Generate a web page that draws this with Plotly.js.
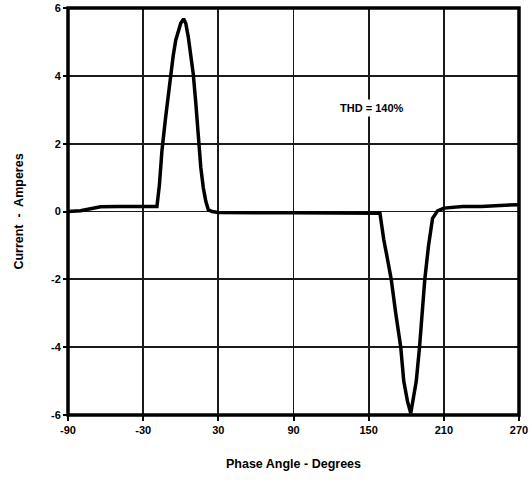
<!DOCTYPE html>
<html>
<head>
<meta charset="utf-8">
<script src="https://cdn.plot.ly/plotly-3.0.1.min.js"></script>
<style>html,body{margin:0;padding:0;background:#fff;}#chart{width:532px;height:488px;}</style>
</head>
<body>
<div id="chart"></div>
<script>
var phaseDeg = [-90, -80, -72, -64, -50, -40, -30, -25, -19, -17, -15, -12, -9, -6, -4, -2, 0, 2.3, 4, 6, 8, 10, 12, 14, 16, 18, 20, 22, 25, 30, 45, 60, 90, 120, 150, 159, 160, 162, 165, 168, 171.6, 175.6, 178, 181, 183.6, 186, 188, 190.6, 192.8, 194.8, 197.8, 201, 205, 210, 225, 240, 255, 270];
var currentAmps = [0, 0.02, 0.08, 0.14, 0.15, 0.15, 0.15, 0.15, 0.15, 0.8, 1.8, 2.8, 3.8, 4.6, 5.05, 5.35, 5.55, 5.68, 5.55, 5.15, 4.6, 4.05, 3.2, 2.1, 1.3, 0.7, 0.3, 0.05, 0, -0.03, -0.04, -0.04, -0.04, -0.04, -0.04, -0.05, -0.3, -0.82, -1.4, -2.0, -3.0, -4.0, -5.0, -5.6, -5.95, -5.5, -5.0, -4.0, -3.0, -2.0, -1.0, -0.2, 0.02, 0.1, 0.15, 0.15, 0.18, 0.2];
var xTicks = [-90, -30, 30, 90, 150, 210, 270];
var yTicks = [-6, -4, -2, 0, 2, 4, 6];
var thdLabel = "THD = 140%";

var fnt = {family: "Liberation Sans, Arial, sans-serif", color: "#000", weight: "bold"};

Plotly.newPlot("chart", [{
  x: phaseDeg, y: currentAmps, mode: "lines",
  line: {color: "#000", width: 3.5},
  hoverinfo: "skip", showlegend: false
}], {
  width: 532, height: 488,
  margin: {l: 68, r: 13, t: 8, b: 73},
  paper_bgcolor: "#fff", plot_bgcolor: "#fff",
  xaxis: {
    range: [-90, 270], tickvals: xTicks, ticktext: xTicks.map(String),
    showline: false,
    showgrid: true, gridcolor: "#1a1a1a", gridwidth: 1.8, griddash: "solid",
    zeroline: false, ticks: "outside", ticklen: 5, tickwidth: 2, tickcolor: "#000",
    tickfont: Object.assign({size: 11}, fnt),
    title: {text: "Phase Angle - Degrees", font: Object.assign({size: 12.5}, fnt), standoff: 24}
  },
  yaxis: {
    range: [-6, 6], tickvals: yTicks, ticktext: yTicks.map(String),
    showline: false,
    showgrid: true, gridcolor: "#1a1a1a", gridwidth: 1.8, griddash: "solid",
    zeroline: false, ticks: "outside", ticklen: 4, tickwidth: 2, tickcolor: "#000",
    tickfont: Object.assign({size: 11}, fnt),
    title: {text: "Current  -  Amperes", font: Object.assign({size: 12.5}, fnt), standoff: 24}
  },
  shapes: [{
    type: "rect", xref: "paper", yref: "paper", x0: 0, x1: 1, y0: 0, y1: 1,
    line: {color: "#000", width: 3.5}, fillcolor: "rgba(0,0,0,0)", layer: "above"
  }],
  annotations: [{
    x: 152, y: 3.05, xref: "x", yref: "y", text: thdLabel, showarrow: false,
    bgcolor: "#fff", borderpad: 2, font: Object.assign({size: 11}, fnt)
  }]
}, {staticPlot: true});
</script>
</body>
</html>
